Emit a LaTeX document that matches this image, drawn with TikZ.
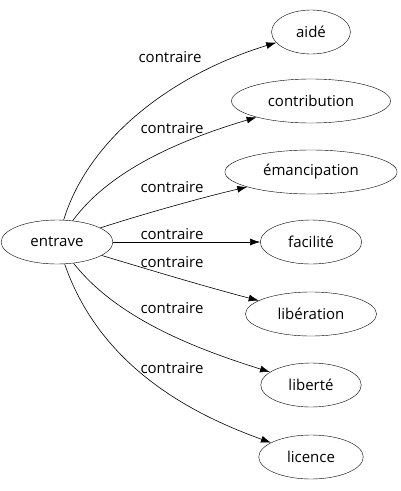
\documentclass[tikz,border=0pt]{standalone}
\usepackage{fontspec}
\setmainfont{Open Sans}
\usetikzlibrary{shapes.geometric,arrows.meta}
\newcommand{\rlSize}{\fontsize{15}{18}\selectfont}

\begin{document}
\begin{tikzpicture}[x=1pt,y=-1pt,
  word/.style={draw, ellipse, inner xsep=13pt, inner ysep=0pt, minimum height=44pt, font=\rlSize},
  rel/.style={inner sep=0pt, font=\rlSize},
  edge/.style={-{Latex[length=10pt,width=7pt]}, line width=0.6pt}]
\useasboundingbox (0,0) rectangle (400,491);
\node[word] (entrave) at (57,242) {entrave};
\node[word] (aide) at (311,32) {aidé};
\node[word] (contribution) at (311,101) {contribution};
\node[word] (emancipation) at (311,172) {émancipation};
\node[word] (facilite) at (311,242) {facilité};
\node[word] (liberation) at (311,314) {libération};
\node[word] (liberte) at (311,385) {liberté};
\node[word] (licence) at (311,457) {licence};
\node[rel] (r1) at (170,57) {contraire};
\node[rel] (r2) at (172,128) {contraire};
\node[rel] (r3) at (172,187) {contraire};
\node[rel] (r4) at (172,234) {contraire};
\node[rel] (r5) at (172,262) {contraire};
\node[rel] (r6) at (172,308) {contraire};
\node[rel] (r7) at (172,368) {contraire};
\draw[edge] (entrave) .. controls (88,140) and (170,75) .. (aide);
\draw[edge] (entrave) .. controls (110,170) and (180,140) .. (contribution);
\draw[edge] (entrave) .. controls (140,215) and (200,198) .. (emancipation);
\draw[edge] (entrave) -- (facilite);
\draw[edge] (entrave) .. controls (150,270) and (210,288) .. (liberation);
\draw[edge] (entrave) .. controls (118,320) and (200,350) .. (liberte);
\draw[edge] (entrave) .. controls (98,360) and (180,410) .. (licence);
\end{tikzpicture}
\end{document}
